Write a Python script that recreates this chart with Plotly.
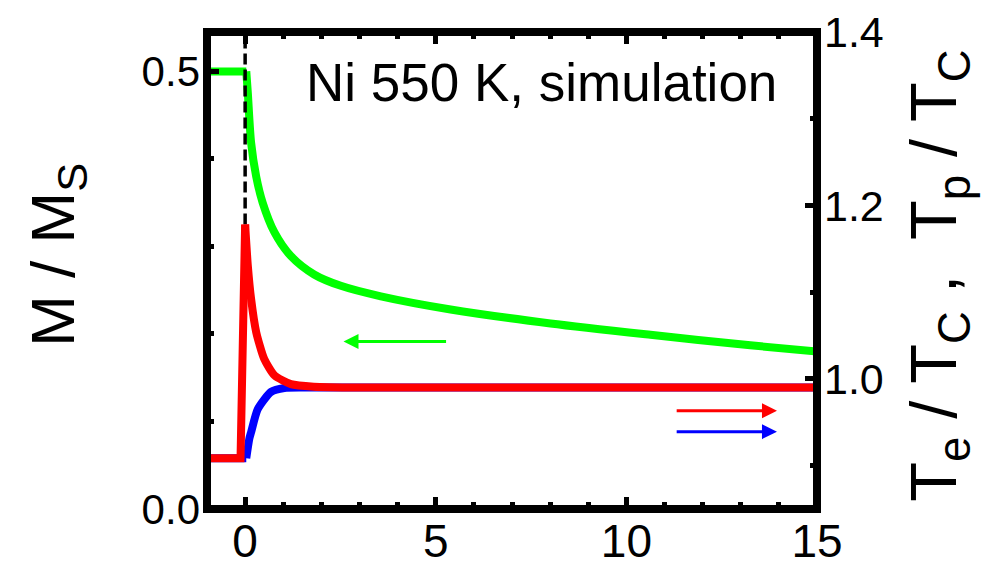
import plotly.graph_objects as go

# ---- data ----
green_t = [-1.0, 0.03, 0.07, 0.157, 0.29, 0.46, 0.77, 1.2, 1.81, 2.51, 3.56, 5.39, 8.01, 10.63, 13.25, 15.0]
green_m = [0.5, 0.5, 0.476, 0.4185, 0.380, 0.350, 0.316, 0.289, 0.268, 0.255, 0.243, 0.228, 0.212, 0.199, 0.187, 0.180]

red_t = [-1.0, -0.12, 0.0, 0.07, 0.157, 0.29, 0.5, 0.77, 1.2, 1.8, 3.0, 15.0]
red_T = [0.9085, 0.9085, 1.178, 1.131, 1.092, 1.054, 1.023, 1.004, 0.994, 0.991, 0.990, 0.990]

blue_t = [-1.0, 0.03, 0.11, 0.157, 0.33, 0.68, 1.03, 1.5, 2.0, 15.0]
blue_T = [0.9085, 0.9085, 0.931, 0.9385, 0.965, 0.985, 0.9895, 0.990, 0.990, 0.990]

x_range = [-1, 15]
y_range = [0, 0.545]
y2_range = [0.85, 1.4]
x_ticks = [0, 5, 10, 15]
y_ticks = [0.0, 0.5]
y_ticklabels = ["0.0", "0.5"]
y2_ticks = [1.0, 1.2, 1.4]
y2_ticklabels = ["1.0", "1.2", "1.4"]

# arrows (tail x, head x, level)
green_arrow = (5.31, 2.58, 0.1914)
red_arrow = (11.28, 13.95, 0.9634)
blue_arrow = (11.28, 13.95, 0.9392)

label_text = "Ni 550 K, simulation"

FONT = "Liberation Sans, Arial, sans-serif"
GREEN, RED, BLUE = "#00ff00", "#ff0000", "#0000ff"
LW = 8

fig = go.Figure()

# green (left axis): flat part + decay
g_split = 1
fig.add_trace(go.Scatter(x=green_t[:g_split + 1], y=green_m[:g_split + 1], mode="lines",
                         line=dict(color=GREEN, width=LW), yaxis="y", showlegend=False))
fig.add_trace(go.Scatter(x=green_t[g_split:], y=green_m[g_split:], mode="lines",
                         line=dict(color=GREEN, width=LW, shape="spline", smoothing=0.8),
                         yaxis="y", showlegend=False))

# dashed marker at t=0 from red peak to top
peak_i = red_T.index(max(red_T))
fig.add_trace(go.Scatter(x=[red_t[peak_i], red_t[peak_i]], y=[red_T[peak_i], y2_range[1]], mode="lines",
                         line=dict(color="black", width=3.5, dash="11px,5px"), yaxis="y2", showlegend=False))

# blue
b_split = 1
fig.add_trace(go.Scatter(x=blue_t[:b_split + 1], y=blue_T[:b_split + 1], mode="lines",
                         line=dict(color=BLUE, width=LW), yaxis="y2", showlegend=False))
fig.add_trace(go.Scatter(x=blue_t[b_split:], y=blue_T[b_split:], mode="lines",
                         line=dict(color=BLUE, width=LW, shape="spline", smoothing=0.6),
                         yaxis="y2", showlegend=False))
# red
fig.add_trace(go.Scatter(x=red_t[:peak_i + 1], y=red_T[:peak_i + 1], mode="lines",
                         line=dict(color=RED, width=LW), yaxis="y2", showlegend=False))
fig.add_trace(go.Scatter(x=red_t[peak_i:], y=red_T[peak_i:], mode="lines",
                         line=dict(color=RED, width=LW, shape="spline", smoothing=0.6),
                         yaxis="y2", showlegend=False))

tick_common = dict(ticks="inside", ticklen=12, tickwidth=5, tickcolor="black",
                   showgrid=False, zeroline=False, showline=False, automargin=False)

# the page body adds an 8px offset, so the figure is 8px smaller on each far side
fig.update_layout(
    width=988, height=555,
    margin=dict(l=199, r=179, t=24, b=54, autoexpand=False),
    paper_bgcolor="white", plot_bgcolor="white",
    font=dict(family=FONT, color="black"),
    xaxis=dict(range=x_range, tickvals=x_ticks, mirror="ticks",
               minor=dict(ticks="inside", ticklen=7, tickwidth=5, dtick=1, tick0=0, tickcolor="black"),
               tickfont=dict(size=46, family=FONT), ticklabelstandoff=1, **tick_common),
    yaxis=dict(range=y_range, tickvals=y_ticks, ticktext=y_ticklabels,
               minor=dict(ticks="inside", ticklen=7, tickwidth=5, dtick=0.1, tick0=0, tickcolor="black"),
               tickfont=dict(size=42, family=FONT), ticklabelstandoff=6, **tick_common),
    yaxis2=dict(range=y2_range, tickvals=y2_ticks, ticktext=y2_ticklabels, overlaying="y", side="right",
                minor=dict(ticks="inside", ticklen=7, tickwidth=5, dtick=0.1, tick0=0, tickcolor="black"),
                tickfont=dict(size=43, family=FONT), ticklabelstandoff=6, **tick_common),
    shapes=[dict(type="rect", xref="paper", yref="paper", x0=0, x1=1, y0=0, y1=1,
                 line=dict(color="black", width=8), layer="above")],
)

ann = []
ann.append(dict(text=label_text, xref="paper", yref="paper", x=0.548, y=0.895,
                xanchor="center", yanchor="middle", showarrow=False,
                font=dict(size=53, family=FONT, color="black")))
ann.append(dict(text="M / M<sub>S</sub>", xref="paper", yref="paper", x=-0.245, y=0.532,
                xanchor="center", yanchor="middle", textangle=-90, showarrow=False,
                font=dict(size=62, family=FONT, color="black")))
ann.append(dict(text="T<sub>e</sub> / T<sub>C</sub> ,  T<sub>p</sub> / T<sub>C</sub>",
                xref="paper", yref="paper", x=1.2, y=0.489,
                xanchor="center", yanchor="middle", textangle=-90, showarrow=False,
                font=dict(size=65, family=FONT, color="black")))
for (tail, head, lvl), col, yr in [(green_arrow, GREEN, "y"), (red_arrow, RED, "y2"), (blue_arrow, BLUE, "y2")]:
    ann.append(dict(x=head, y=lvl, xref="x", yref=yr, ax=tail, ay=lvl, axref="x", ayref=yr,
                    text="", showarrow=True, arrowhead=2, arrowsize=1.0, arrowwidth=3, arrowcolor=col))
fig.update_layout(annotations=ann)

fig.write_html("out.html")
